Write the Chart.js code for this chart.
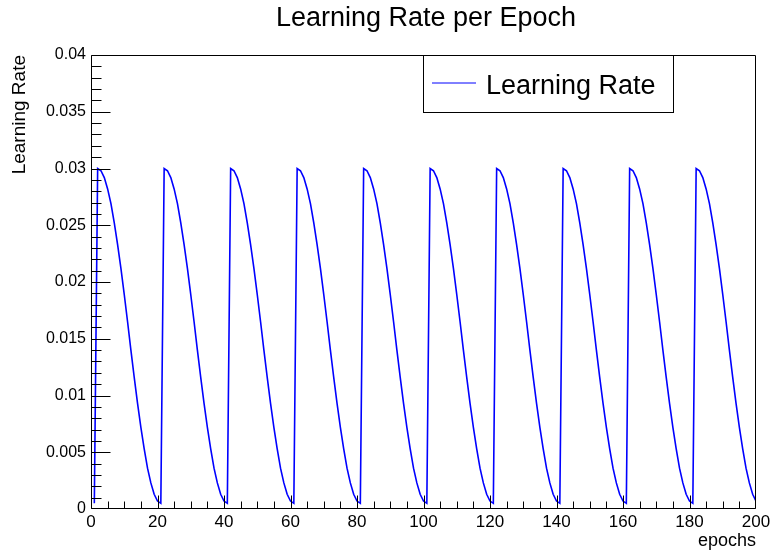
<!DOCTYPE html>
<html>
<head>
<meta charset="utf-8">
<script src="https://cdn.jsdelivr.net/npm/chart.js@4.4.1/dist/chart.umd.min.js"></script>
<style>
  body { margin: 0; background: #fff; }
  canvas { display: block; }
</style>
</head>
<body>
<canvas id="lrChart" width="771" height="554"></canvas>
<script>
const chartTitle = "Learning Rate per Epoch";
const seriesLabel = "Learning Rate";
const xTitle = "epochs";
const yTitle = "Learning Rate";

// epoch index 1..200
const epochs = Array.from({ length: 200 }, (_, i) => i + 1);

// restarts every 20 epochs
const learningRate = [
  0.0005,
  0.0300, 0.0298, 0.0292, 0.0282, 0.0269, 0.0252, 0.0233, 0.0212, 0.0189, 0.0165,
  0.0140, 0.0116, 0.0093, 0.0072, 0.0053, 0.0036, 0.0023, 0.0013, 0.0007, 0.0005,
  0.0300, 0.0298, 0.0292, 0.0282, 0.0269, 0.0252, 0.0233, 0.0212, 0.0189, 0.0165,
  0.0140, 0.0116, 0.0093, 0.0072, 0.0053, 0.0036, 0.0023, 0.0013, 0.0007, 0.0005,
  0.0300, 0.0298, 0.0292, 0.0282, 0.0269, 0.0252, 0.0233, 0.0212, 0.0189, 0.0165,
  0.0140, 0.0116, 0.0093, 0.0072, 0.0053, 0.0036, 0.0023, 0.0013, 0.0007, 0.0005,
  0.0300, 0.0298, 0.0292, 0.0282, 0.0269, 0.0252, 0.0233, 0.0212, 0.0189, 0.0165,
  0.0140, 0.0116, 0.0093, 0.0072, 0.0053, 0.0036, 0.0023, 0.0013, 0.0007, 0.0005,
  0.0300, 0.0298, 0.0292, 0.0282, 0.0269, 0.0252, 0.0233, 0.0212, 0.0189, 0.0165,
  0.0140, 0.0116, 0.0093, 0.0072, 0.0053, 0.0036, 0.0023, 0.0013, 0.0007, 0.0005,
  0.0300, 0.0298, 0.0292, 0.0282, 0.0269, 0.0252, 0.0233, 0.0212, 0.0189, 0.0165,
  0.0140, 0.0116, 0.0093, 0.0072, 0.0053, 0.0036, 0.0023, 0.0013, 0.0007, 0.0005,
  0.0300, 0.0298, 0.0292, 0.0282, 0.0269, 0.0252, 0.0233, 0.0212, 0.0189, 0.0165,
  0.0140, 0.0116, 0.0093, 0.0072, 0.0053, 0.0036, 0.0023, 0.0013, 0.0007, 0.0005,
  0.0300, 0.0298, 0.0292, 0.0282, 0.0269, 0.0252, 0.0233, 0.0212, 0.0189, 0.0165,
  0.0140, 0.0116, 0.0093, 0.0072, 0.0053, 0.0036, 0.0023, 0.0013, 0.0007, 0.0005,
  0.0300, 0.0298, 0.0292, 0.0282, 0.0269, 0.0252, 0.0233, 0.0212, 0.0189, 0.0165,
  0.0140, 0.0116, 0.0093, 0.0072, 0.0053, 0.0036, 0.0023, 0.0013, 0.0007, 0.0005,
  0.0300, 0.0298, 0.0292, 0.0282, 0.0269, 0.0252, 0.0233, 0.0212, 0.0189, 0.0165,
  0.0140, 0.0116, 0.0093, 0.0072, 0.0053, 0.0036, 0.0023, 0.0013, 0.0007,
];

const xRange = [0, 200];
const yRange = [0, 0.04];

const fontFamily = "'Liberation Sans', Arial, Helvetica, sans-serif";
Chart.defaults.font.family = fontFamily;
Chart.defaults.color = "#000";

// ROOT-style frame with inward ticks, title and legend box
const frameTicks = {
  id: "frameTicks",
  afterDatasetsDraw(chart) {
    const { ctx, chartArea: a, scales } = chart;
    const xs = scales.x;
    const ys = scales.y;
    const left = Math.round(a.left) + 0.5;
    const right = Math.round(a.right) - 0.5;
    const top = Math.round(a.top) + 0.5;
    const bottom = Math.round(a.bottom) - 0.5;
    ctx.save();
    ctx.strokeStyle = "#000";
    ctx.lineWidth = 1;
    ctx.beginPath();
    for (let v = xRange[0]; v <= xRange[1]; v += 5) {
      const px = Math.min(Math.round(xs.getPixelForValue(v)) + 0.5, right);
      const len = v % 20 === 0 ? 13 : 7;
      ctx.moveTo(px, bottom);
      ctx.lineTo(px, bottom - len);
    }
    for (let i = 0; i <= 40; i++) {
      const py = Math.min(Math.round(ys.getPixelForValue(i / 1000)) + 0.5, bottom);
      const len = i % 5 === 0 ? 19 : 10;
      ctx.moveTo(left, py);
      ctx.lineTo(left + len, py);
    }
    ctx.moveTo(left, top);
    ctx.lineTo(right, top);
    ctx.lineTo(right, bottom);
    ctx.lineTo(left, bottom);
    ctx.closePath();
    ctx.stroke();
    ctx.restore();
  },
  afterDraw(chart) {
    const { ctx } = chart;
    ctx.save();
    // title
    ctx.fillStyle = "#000";
    ctx.font = "27px " + fontFamily;
    ctx.textAlign = "center";
    ctx.textBaseline = "middle";
    ctx.fillText(chartTitle, 426, 19);
    // legend box
    ctx.fillStyle = "#fff";
    ctx.fillRect(423, 55, 250, 57);
    ctx.strokeStyle = "#000";
    ctx.lineWidth = 1;
    ctx.strokeRect(423.5, 55.5, 250, 57);
    ctx.strokeStyle = "#0000ff";
    ctx.beginPath();
    ctx.moveTo(432, 83);
    ctx.lineTo(476, 83);
    ctx.stroke();
    ctx.fillStyle = "#000";
    ctx.textAlign = "left";
    ctx.fillText(chart.data.datasets[0].label, 486, 87);
    ctx.restore();
  },
};

new Chart(document.getElementById("lrChart"), {
  type: "line",
  data: {
    labels: epochs,
    datasets: [
      {
        label: seriesLabel,
        data: epochs.map((e, i) => ({ x: e, y: learningRate[i] })),
        borderColor: "#0000ff",
        borderWidth: 1.6,
        pointRadius: 0,
        tension: 0,
        fill: false,
      },
    ],
  },
  options: {
    responsive: false,
    animation: false,
    devicePixelRatio: 1,
    layout: { padding: { top: 55, right: 15, left: 0, bottom: 0 } },
    plugins: {
      legend: { display: false },
      title: { display: false },
      tooltip: { enabled: false },
    },
    scales: {
      x: {
        type: "linear",
        min: xRange[0],
        max: xRange[1],
        grid: { display: false, drawTicks: false, tickLength: 0 },
        border: { display: false },
        ticks: { stepSize: 20, maxRotation: 0, autoSkip: false, padding: 3, font: { size: 17 } },
        title: { display: true, text: xTitle, align: "end", font: { size: 18 }, padding: { top: 0, bottom: 2 } },
        afterFit: (s) => {
          s.height = 45;
          s.paddingLeft = 0;
          s.paddingRight = 0;
        },
      },
      y: {
        min: yRange[0],
        max: yRange[1],
        grid: { display: false, drawTicks: false, tickLength: 0 },
        border: { display: false },
        ticks: {
          stepSize: 0.005,
          padding: 5,
          font: { size: 16 },
          callback: (v) => String(+v.toFixed(3)),
        },
        title: { display: true, text: yTitle, align: "end", font: { size: 19 }, padding: { top: 8, bottom: 0 } },
        afterFit: (s) => {
          s.width = 91;
          s.paddingTop = 0;
          s.paddingBottom = 0;
        },
      },
    },
  },
  plugins: [frameTicks],
});
</script>
</body>
</html>
